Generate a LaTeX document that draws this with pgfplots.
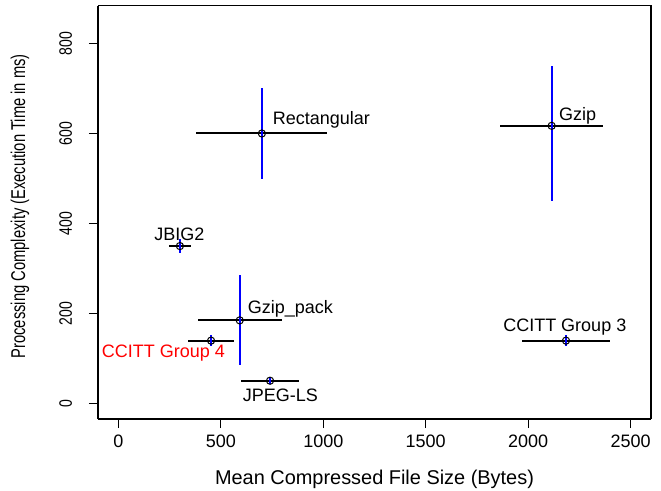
\documentclass[border=0pt]{standalone}
\usepackage{pgfplots}
\pgfplotsset{compat=1.18}
\usepackage{pgfplotstable}
\usepackage{fontspec}
\setmainfont{Liberation Sans}
\usepackage{graphicx}

\pgfplotstableread{
x     y    ex   eyp  eym
700   600  320  100  100
2115  617  251  133  166
300   350  55   15   15
592   185  205  100  100
452   140  112  12   12
740   51   143  8    8
2185  140  215  12   12
}\data

\tikzset{lbl/.style={font=\fontsize{9bp}{11bp}\selectfont, inner sep=0pt}}

\begin{document}
\begin{tikzpicture}
\useasboundingbox (-49bp,-36bp) rectangle (281.5bp,209.5bp);
\begin{axis}[
  at={(0,0)}, anchor=south west,
  scale only axis, width=276.5bp, height=206.7bp,
  xmin=-100, xmax=2600, ymin=-34, ymax=884,
  xtick={0,500,1000,1500,2000,2500},
  ytick={0,200,400,600,800},
  tick align=outside, major tick length=4.5bp,
  every tick/.style={black, line width=0.5bp},
  axis line style={line width=0.8bp},
  axis x line*=bottom, axis y line*=left,
  /pgf/number format/assume math mode=true,
  /pgf/number format/1000 sep={},
  tick label style={font=\fontsize{9bp}{11bp}\selectfont},
  xticklabel style={anchor=center, yshift=-6.5bp},
  yticklabel={\scalebox{0.78}[1]{\pgfmathprintnumber{\tick}}},
  yticklabel style={rotate=90, anchor=south, yshift=5bp},
  label style={font=\fontsize{9bp}{11bp}\selectfont},
  xlabel={Mean Compressed File Size (Bytes)},
  ylabel={\scalebox{0.74}[1]{Processing Complexity (Execution Time in ms)}},
  every axis x label/.style={at={(axis description cs:0.5,0)}, yshift=-30bp, anchor=center},
  every axis y label/.style={at={(axis description cs:0,0.5)}, xshift=-39bp, yshift=3bp, rotate=90, anchor=center},
  clip=false,
]
% box top and right
\draw[line width=0.8bp] (rel axis cs:0,1) -- (rel axis cs:1,1) -- (rel axis cs:1,0);
\addplot[draw=none, mark=none, forget plot,
  error bars/.cd, x dir=both, x explicit, error mark=none,
  error bar style={draw=black, solid, line width=1bp}]
  table[x=x, y=y, x error=ex] {\data};
\addplot[blue, draw=none, mark=none, forget plot,
  error bars/.cd, y dir=both, y explicit, error mark=none,
  error bar style={draw=blue, color=blue, solid, line width=0.9bp}]
  table[x=x, y=y, y error plus=eyp, y error minus=eym] {\data};
\addplot[only marks, mark=o, mark size=1.8bp, black, mark options={line width=0.5bp}]
  table[x=x, y=y] {\data};

\node[lbl, anchor=west] at (axis cs:752,630) {Rectangular};
\node[lbl, anchor=west] at (axis cs:2149,639) {Gzip};
\node[lbl] at (axis cs:297,376) {JBIG2};
\node[lbl, anchor=west] at (axis cs:630,210) {Gzip\_pack};
\node[lbl, anchor=east, text=red] at (axis cs:522,112) {CCITT Group 4};
\node[lbl] at (axis cs:790,18) {JPEG-LS};
\node[lbl] at (axis cs:2179,170) {CCITT Group 3};
\end{axis}
\end{tikzpicture}
\end{document}
